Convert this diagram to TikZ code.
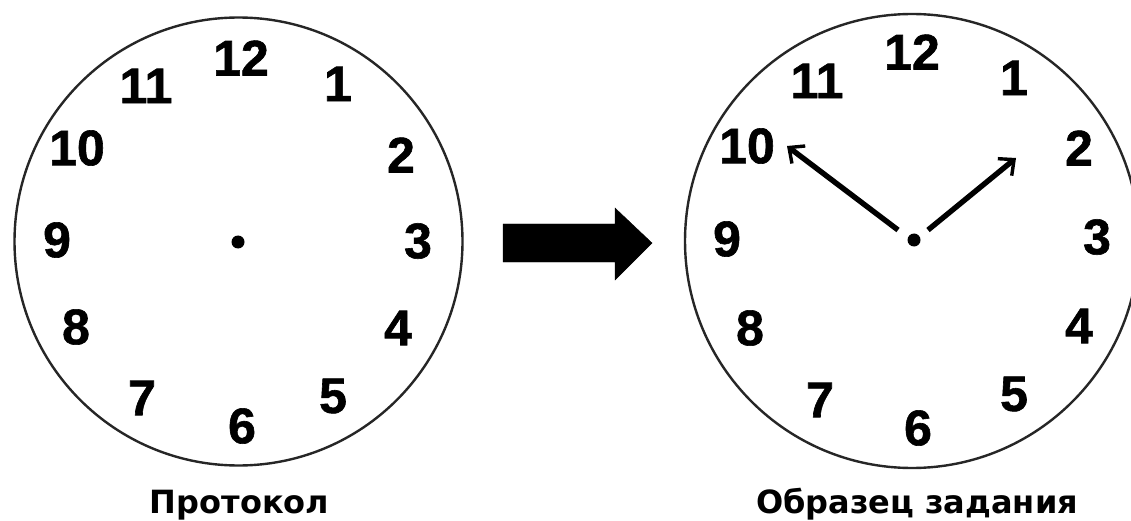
\documentclass[tikz,border=0pt]{standalone}
\usepackage{fontspec}
\setmainfont{Liberation Sans}
\newfontfamily\numfont{Liberation Sans Bold}[FakeBold=1.2]
\newfontfamily\captionfont{DejaVu Sans}
\usetikzlibrary{arrows.meta}
\tikzset{
  dial/.style={draw=black!85, line width=2.4pt},
  numeral/.style={font=\numfont\fontsize{50}{50}\selectfont, inner sep=0pt},
  hubdot/.style={fill=black},
  hand/.style={line width=5.4pt, -{Straight Barb[length=12pt, width=22pt, line width=3.4pt]}},
  caption/.style={font=\captionfont\fontsize{32}{32}\selectfont\bfseries, anchor=base, inner sep=0pt},
  bigarrow/.style={fill=black}
}
\begin{document}
\begin{tikzpicture}[x=1pt, y=-1pt]
\useasboundingbox (0,0) rectangle (1131,521);
\fill[white] (0,0) rectangle (1131,521);

% left clock face
\draw[dial] (238.5,241.5) circle [radius=224pt];
\coordinate (lhub) at (238,242);
\fill[hubdot] (lhub) circle [radius=6.5pt];
\node[numeral] (l12) at (241,58) {12};
\node[numeral] (l1) at (338,84) {1};
\node[numeral] (l2) at (401,155) {2};
\node[numeral] (l3) at (418,241) {3};
\node[numeral] (l4) at (398,328) {4};
\node[numeral] (l5) at (333,396) {5};
\node[numeral] (l6) at (242,426) {6};
\node[numeral] (l7) at (142,398) {7};
\node[numeral] (l8) at (76,327) {8};
\node[numeral] (l9) at (57,240) {9};
\node[numeral] (l10) at (77,148) {10};
\node[numeral] (l11) at (146,86) {11};
\node[caption] (lcap) at (239.5,513) {Протокол};

% transition arrow
\filldraw[bigarrow] (503,224) -- (615,224) -- (615,208) -- (652,243)
  -- (615,280) -- (615,262) -- (503,262) -- cycle;

% right clock face
\draw[dial] (912,241) circle [radius=227pt];
\coordinate (rhub) at (914,240);
\fill[hubdot] (rhub) circle [radius=6.5pt];
\node[numeral] (r12) at (912,52) {12};
\node[numeral] (r1) at (1014,78) {1};
\node[numeral] (r2) at (1079,148) {2};
\node[numeral] (r3) at (1097,237) {3};
\node[numeral] (r4) at (1079,326) {4};
\node[numeral] (r5) at (1014,394) {5};
\node[numeral] (r6) at (918,428) {6};
\node[numeral] (r7) at (820,400) {7};
\node[numeral] (r8) at (750,328) {8};
\node[numeral] (r9) at (727,239) {9};
\node[numeral] (r10) at (747,146) {10};
\node[numeral] (r11) at (817,81) {11};
\node[caption] (rcap) at (917,513) {Образец задания};

% hands
\coordinate (hstartL) at (898,230);
\coordinate (htipL) at (787,146);
\coordinate (hstartR) at (928,230);
\coordinate (htipR) at (1016,158);
\draw[hand] (hstartL) -- (htipL);
\draw[hand] (hstartR) -- (htipR);
\end{tikzpicture}
\end{document}
